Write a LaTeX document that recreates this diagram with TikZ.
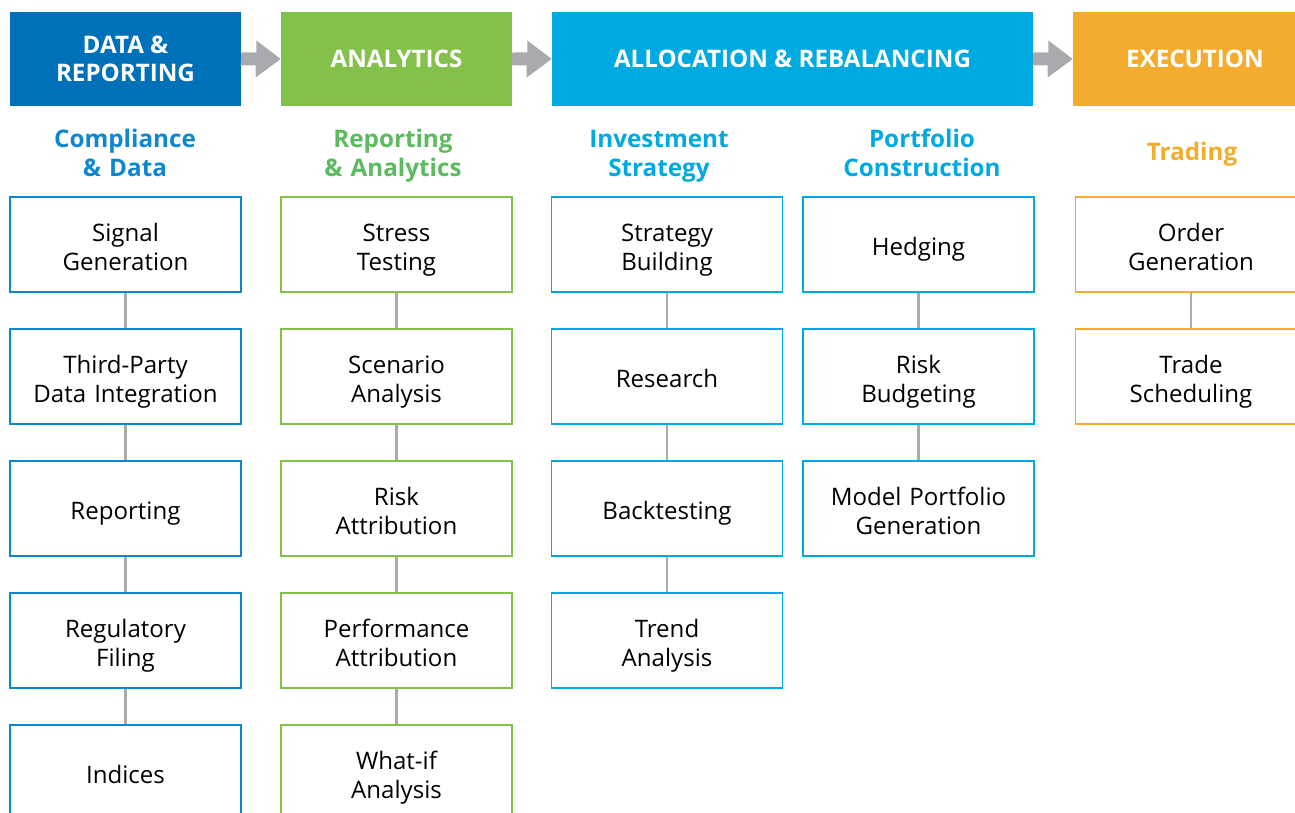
\documentclass[tikz,border=0pt]{standalone}
\usepackage{fontspec}
\setmainfont{Open Sans}
\usetikzlibrary{positioning,calc}

\definecolor{dblue}{HTML}{0071B9}
\definecolor{mblue}{HTML}{0E87CF}
\definecolor{lgreen}{HTML}{84C14A}
\definecolor{sgreen}{HTML}{5CBA5F}
\definecolor{cyan}{HTML}{00A9E0}
\definecolor{orange}{HTML}{F4AC2F}
\definecolor{flowgray}{HTML}{A8AAAE}
\definecolor{linkgray}{HTML}{ABABAB}

\newcommand\topstrut{\vrule width 0pt height 16pt depth 0pt}
\newcommand\botstrut{\vrule width 0pt height 0pt depth 3.4pt}

\tikzset{
  head/.style={fill=#1, text=white, minimum height=1.88cm, align=center,
    font=\bfseries\fontsize{13.75}{16}\selectfont},
  sub/.style={text=#1, text width=4.5cm, inner xsep=0pt, align=center,
    font=\bfseries\fontsize{13.8}{16.5}\selectfont,
    execute at begin node=\topstrut, execute at end node=\botstrut},
  item/.style={draw=#1, line width=0.85pt, text width=4.62cm, inner xsep=0pt,
    minimum height=1.9cm, align=center, font=\fontsize{13.7}{16.5}\selectfont,
    execute at begin node=\topstrut, execute at end node=\botstrut},
  link/.style={draw=linkgray, line width=1.2pt},
  flow/.style={fill=flowgray}
}

\begin{document}
\begin{tikzpicture}[x=0.02cm,y=-0.02cm]
\useasboundingbox (0,0) rectangle (1295,813);
\clip (0,0) rectangle (1295,813);

% stages
\node[head=dblue, minimum width=4.62cm] (data) at (125.5,59) {DATA \&\\REPORTING};
\node[head=lgreen, minimum width=4.62cm] (analytics) at (396.5,59) {ANALYTICS};
\node[head=cyan, minimum width=9.62cm] (alloc) at (792.5,59) {ALLOCATION \& REBALANCING};
\node[head=orange, minimum width=4.88cm] (exec) at (1195,59) {EXECUTION};

% arrows between stages
\fill[flow] ($(data.east)+(0,-6.5)$) -- ++(15,0) -- ++(0,-12) -- (analytics.west)
  -- ++(-25,18.5) -- ++(0,-12) -- ++(-15,0) -- cycle;
\fill[flow] ($(analytics.east)+(0,-6.5)$) -- ++(15,0) -- ++(0,-12) -- (alloc.west)
  -- ++(-25,18.5) -- ++(0,-12) -- ++(-15,0) -- cycle;
\fill[flow] ($(alloc.east)+(0,-6.5)$) -- ++(15,0) -- ++(0,-12) -- (exec.west)
  -- ++(-25,18.5) -- ++(0,-12) -- ++(-15,0) -- cycle;

% sub headings
\node[sub=mblue] (compl) at (125,150.5) {Compliance\\\& Data};
\node[sub=sgreen] (repan) at (393,150.5) {Reporting\\\& Analytics};
\node[sub=cyan] (invest) at (659,150.5) {Investment\\Strategy};
\node[sub=cyan] (portf) at (922,150.5) {Portfolio\\Construction};
\node[sub=orange] (trading) at (1192,149) {Trading};

% compliance & data
\node[item=mblue] (signal) at (125.5,244.5) {Signal\\Generation};
\node[item=mblue] (third) at (125.5,376.5) {Third-Party\\Data Integration};
\node[item=mblue] (report) at (125.5,508.5) {Reporting};
\node[item=mblue] (regul) at (125.5,640.5) {Regulatory\\Filing};
\node[item=mblue] (indices) at (125.5,772.5) {Indices};
\draw[link] (signal) -- (third);
\draw[link] (third) -- (report);
\draw[link] (report) -- (regul);
\draw[link] (regul) -- (indices);

% reporting & analytics
\node[item=lgreen] (stress) at (396.5,244.5) {Stress\\Testing};
\node[item=lgreen] (scenario) at (396.5,376.5) {Scenario\\Analysis};
\node[item=lgreen] (riskattr) at (396.5,508.5) {Risk\\Attribution};
\node[item=lgreen] (perfattr) at (396.5,640.5) {Performance\\Attribution};
\node[item=lgreen] (whatif) at (396.5,772.5) {What-if\\Analysis};
\draw[link] (stress) -- (scenario);
\draw[link] (scenario) -- (riskattr);
\draw[link] (riskattr) -- (perfattr);
\draw[link] (perfattr) -- (whatif);

% investment strategy
\node[item=cyan] (strategy) at (667,244.5) {Strategy\\Building};
\node[item=cyan] (research) at (667,376.5) {Research};
\node[item=cyan] (backtest) at (667,508.5) {Backtesting};
\node[item=cyan] (trend) at (667,640.5) {Trend\\Analysis};
\draw[link] (strategy) -- (research);
\draw[link] (research) -- (backtest);
\draw[link] (backtest) -- (trend);

% portfolio construction
\node[item=cyan] (hedging) at (918.5,244.5) {Hedging};
\node[item=cyan] (riskbud) at (918.5,376.5) {Risk\\Budgeting};
\node[item=cyan] (model) at (918.5,508.5) {Model Portfolio\\Generation};
\draw[link] (hedging) -- (riskbud);
\draw[link] (riskbud) -- (model);

% trading
\node[item=orange] (order) at (1191,244.5) {Order\\Generation};
\node[item=orange] (sched) at (1191,376.5) {Trade\\Scheduling};
\draw[link] (order) -- (sched);
\end{tikzpicture}
\end{document}
